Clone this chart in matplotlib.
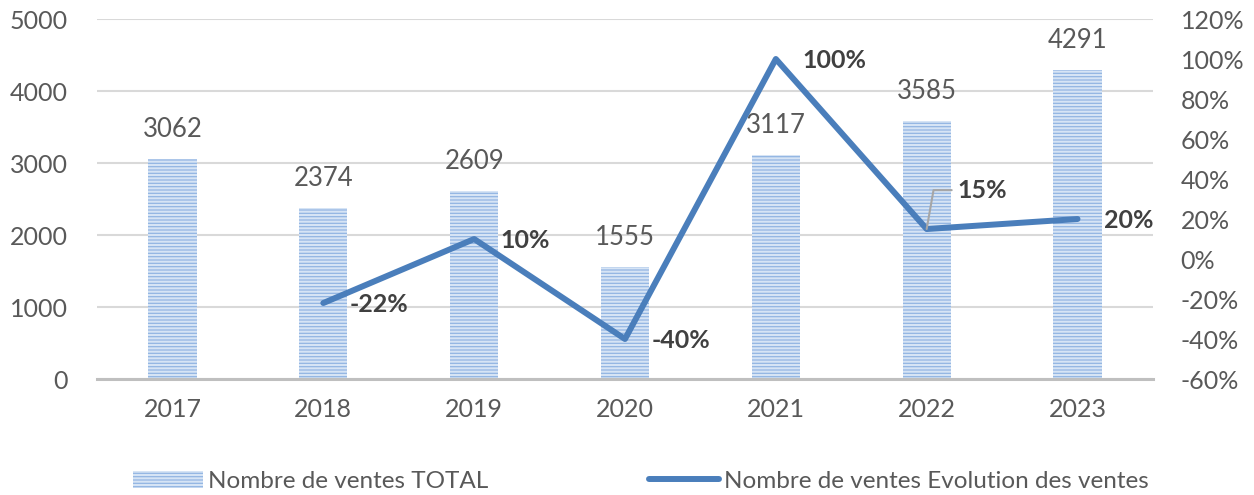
import matplotlib.pyplot as plt
import numpy as np

# Données
annees = ['2017', '2018', '2019', '2020', '2021', '2022', '2023']
ventes_total = [3062, 2374, 2609, 1555, 3117, 3585, 4291]
evol_annees = ['2018', '2019', '2020', '2021', '2022', '2023']
evolution = [-22, 10, -40, 100, 15, 20]
evol_labels = ['-22%', '10%', '-40%', '100%', '15%', '20%']

plt.rcParams['font.family'] = ['Lato', 'DejaVu Sans']
plt.rcParams['hatch.linewidth'] = 1.5

gris = '#595959'
bleu_ligne = '#4a7ebb'

fig = plt.figure(figsize=(12.54, 4.95), dpi=100)
ax = fig.add_axes([0.0774, 0.2343, 0.842, 0.7273])
ax2 = ax.twinx()

x = np.arange(len(annees))
ax.bar(x, ventes_total, width=0.32, color='#93b5e3', edgecolor='#d6e4f5',
       hatch='-----', linewidth=0, zorder=2, label='Nombre de ventes TOTAL')
for xi, v in zip(x, ventes_total):
    ax.annotate(str(v), (xi, v), xytext=(0, 12), textcoords='offset points',
                ha='center', va='bottom', fontsize=18.5, color=gris)

ax.set_ylim(0, 5000)
ax.set_yticks(range(0, 5001, 1000))
ax.set_xlim(-0.5, len(annees) - 0.5)
ax.set_xticks(x)
ax.set_xticklabels(annees)
ax.grid(axis='y', color='#d9d9d9', linewidth=1.5, zorder=0)
ax.set_axisbelow(True)

# Courbe d'évolution
xe = [annees.index(a) for a in evol_annees]
ax2.plot(xe, evolution, color=bleu_ligne, linewidth=4.3, solid_capstyle='round',
         solid_joinstyle='round', zorder=3, label='Nombre de ventes Evolution des ventes')
for xi, v, lab in zip(xe, evolution, evol_labels):
    if lab == '15%':
        ax2.annotate(lab, (xi, v), xytext=(22, 28), textcoords='offset points',
                     ha='left', va='center', fontsize=18, fontweight='bold', color='#404040',
                     arrowprops=dict(arrowstyle='-', color='#a6a6a6', lw=1.5,
                                     connectionstyle='angle,angleA=0,angleB=80,rad=0',
                                     shrinkA=2, shrinkB=0))
    else:
        ax2.annotate(lab, (xi, v), xytext=(19, -1), textcoords='offset points',
                     ha='left', va='center', fontsize=18, fontweight='bold', color='#404040')

ax2.set_ylim(-60, 120)
ax2.set_yticks(range(-60, 121, 20))
ax2.set_yticklabels([f'{t}%' for t in range(-60, 121, 20)])

for a in (ax, ax2):
    for s in a.spines.values():
        s.set_visible(False)
    a.tick_params(length=0, labelsize=18, colors=gris)
ax.spines['bottom'].set_visible(True)
ax.spines['bottom'].set_color('#bfbfbf')
ax.spines['bottom'].set_linewidth(2.2)
ax.tick_params(axis='y', pad=21)
ax.tick_params(axis='x', pad=14)
ax2.tick_params(axis='y', pad=20)

h1, l1 = ax.get_legend_handles_labels()
h2, l2 = ax2.get_legend_handles_labels()
fig.legend(h1 + h2, l1 + l2, loc='center', bbox_to_anchor=(0.511, 0.028), ncol=2,
           frameon=False, fontsize=17.5, labelcolor=gris, handlelength=2.9,
           handletextpad=0.2, columnspacing=6.6)

fig.savefig('out.png', dpi=100)
